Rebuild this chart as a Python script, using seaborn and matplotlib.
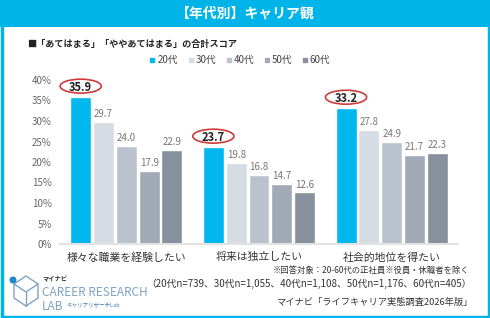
import pandas as pd
import seaborn as sns
import matplotlib.pyplot as plt
from matplotlib.patches import Rectangle, Ellipse, Polygon
from matplotlib.lines import Line2D

items = ['様々な職業を経験したい', '将来は独立したい', '社会的地位を得たい']
ages = ['20代', '30代', '40代', '50代', '60代']
score_20 = [35.9, 23.7, 33.2]
score_30 = [29.7, 19.8, 27.8]
score_40 = [24.0, 16.8, 24.9]
score_50 = [17.9, 14.7, 21.7]
score_60 = [22.9, 12.6, 22.3]
colors = ['#00B8EE', '#D6DCE3', '#BAC3CD', '#A1AAB6', '#87919E']
cyan = '#00B4EA'

rows = []
for age, vals in zip(ages, [score_20, score_30, score_40, score_50, score_60]):
    for item, v in zip(items, vals):
        rows.append({'item': item, 'age': age, 'score': v})
df = pd.DataFrame(rows)

sns.set_style('white')
plt.rcParams['font.family'] = ['Noto Sans CJK JP', 'DejaVu Sans']

W, H = 490, 318
fig = plt.figure(figsize=(4.9, 3.18), dpi=100)
ax = fig.add_axes([60 / W, 1 - 244 / H, 398 / W, 164 / H])

sns.barplot(data=df, x='item', y='score', hue='age', hue_order=ages, order=items,
            palette=colors, width=0.86, gap=0.08, ax=ax, legend=False, saturation=1)

ax.set_ylim(0, 40)
ax.set_xlim(-0.5, 2.5)
ax.set_yticks(range(0, 41, 5))
ax.set_yticklabels([f'{t}%' for t in range(0, 41, 5)], color='#666666', fontsize=7)
ax.set_xlabel('')
ax.set_ylabel('')
ax.tick_params(axis='x', labelsize=7.8, colors='#333333', length=0, pad=6)
ax.tick_params(axis='y', length=0, pad=6)
for s in ['top', 'right', 'left']:
    ax.spines[s].set_visible(False)
ax.spines['bottom'].set_color('#E2E2E2')
ax.spines['bottom'].set_linewidth(1.5)

for i, cont in enumerate(ax.containers):
    if i == 0:
        ax.bar_label(cont, fmt='%.1f', fontsize=8, color='#222222', fontweight='bold', padding=2)
        for bar in cont:
            cx = bar.get_x() + bar.get_width() / 2
            cy = bar.get_height() + 2.6
            ax.add_patch(Ellipse((cx, cy), 0.31, 3.4, fill=False, edgecolor='#D03A3A',
                                 linewidth=1.2, clip_on=False))
    else:
        ax.bar_label(cont, fmt='%.1f', fontsize=7, color='#777777', padding=2)

# legend
handles = [Line2D([], [], marker='s', linestyle='', color=c, markersize=3.5) for c in colors]
fig.legend(handles, ages, loc='center', bbox_to_anchor=(0.49, 1 - 60 / H), ncol=5,
           frameon=False, fontsize=7, handlelength=0.6, handletextpad=0.2, columnspacing=1.0,
           labelcolor='#444444')

fig.text(27 / W, 1 - 45 / H, '■「あてはまる」「ややあてはまる」の合計スコア', fontsize=6.6,
         fontweight='bold', color='#222222', va='center')

# frame and header
fig.patches.append(Rectangle((0, 1 - 27 / H), 1, 27 / H, transform=fig.transFigure,
                             facecolor=cyan, edgecolor='none', zorder=0))
fig.patches.append(Rectangle((1.5 / W, 1.5 / H), 1 - 3 / W, 1 - 3 / H, transform=fig.transFigure,
                             facecolor='none', edgecolor=cyan, linewidth=2.5, zorder=5))
fig.text(0.5, 1 - 14 / H, '【年代別】キャリア観', fontsize=10, fontweight='bold', color='white',
         ha='center', va='center')

# notes
fig.text(470 / W, 1 - 270 / H, '※回答対象：20-60代の正社員※役員・休職者を除く', fontsize=6,
         color='#333333', ha='right', va='center')
fig.text(472 / W, 1 - 284 / H,
         '（20代n=739、30代n=1,055、40代n=1,108、50代n=1,176、60代n=405）',
         fontsize=7, color='#333333', ha='right', va='center')
fig.text(472 / W, 1 - 302 / H, 'マイナビ「ライフキャリア実態調査2026年版」', fontsize=6.7,
         color='#333333', ha='right', va='center')

# logo
logo = '#7FA3C4'
cube = [(14, 284), (26, 276), (38, 284), (38, 298), (26, 306), (14, 298)]
fig.patches.append(Polygon([(x / W, 1 - y / H) for x, y in cube], closed=True,
                           transform=fig.transFigure, facecolor='none', edgecolor=logo, linewidth=1))
fig.lines.append(Line2D([14 / W, 26 / W, 38 / W], [1 - 284 / H, 1 - 292 / H, 1 - 284 / H],
                        transform=fig.transFigure, color=logo, linewidth=1))
fig.lines.append(Line2D([26 / W, 26 / W], [1 - 292 / H, 1 - 306 / H],
                        transform=fig.transFigure, color=logo, linewidth=1))
fig.patches.append(Ellipse((13 / W, 1 - 280 / H), 7 / W, 7 / H, transform=fig.transFigure,
                           facecolor='#1E88C8', edgecolor='none'))
fig.text(42 / W, 1 - 279 / H, 'マイナビ', fontsize=4.5, fontweight='bold', color='#333333', va='center')
fig.text(42 / W, 1 - 292 / H, 'CAREER RESEARCH', fontsize=8.5, color=logo, va='center')
fig.text(42 / W, 1 - 306 / H, 'LAB', fontsize=8.5, color=logo, va='center')
fig.text(66 / W, 1 - 306 / H, 'キャリアリサーチLab', fontsize=4, color='#3A7DB8', va='center')

fig.savefig('out.png', dpi=100)
